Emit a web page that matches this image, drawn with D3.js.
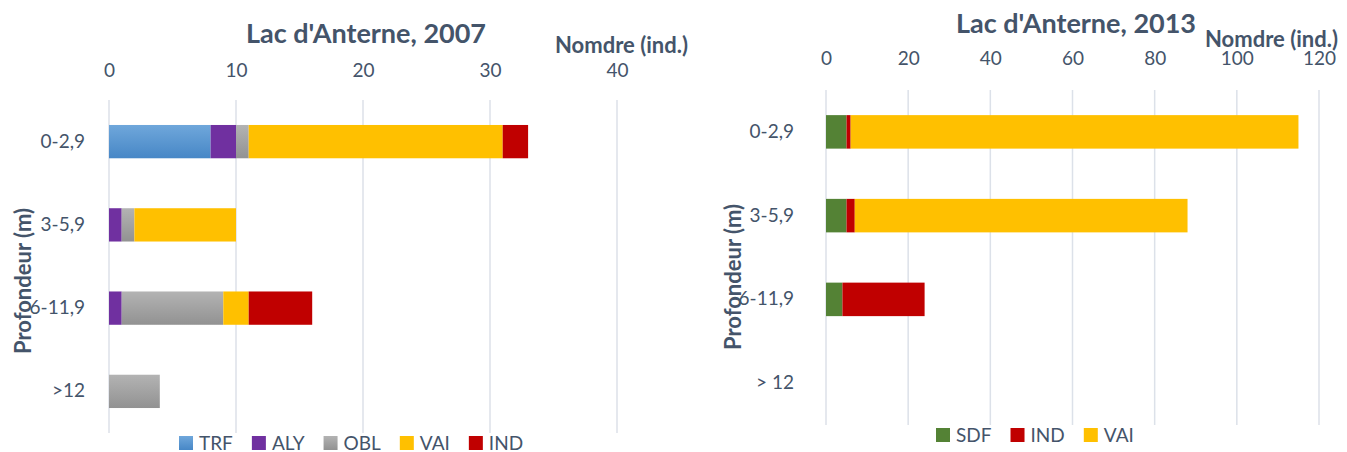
<!DOCTYPE html>
<html>
<head>
<meta charset="utf-8">
<script src="https://cdn.jsdelivr.net/npm/d3@7"></script>
<style>
  body { margin: 0; background: #fff; }
  svg text { font-family: Lato, "Open Sans", sans-serif; fill: #44546A; }
</style>
</head>
<body>
<svg id="chart" width="1347" height="452"></svg>
<script>
// depth classes
const depths2007 = ["0-2,9", "3-5,9", "6-11,9", ">12"];
const depths2013 = ["0-2,9", "3-5,9", "6-11,9", "> 12"];

// 2007 counts per group
const trf2007 = [8, 0, 0, 0];
const aly2007 = [2, 1, 1, 0];
const obl2007 = [1, 1, 8, 4];
const vai2007 = [20, 8, 2, 0];
const ind2007 = [2, 0, 5, 0];

// 2013 counts per group
const sdf2013 = [5, 5, 4, 0];
const ind2013 = [1, 2, 20, 0];
const vai2013 = [109, 81, 0, 0];

const ticks2007 = [0, 10, 20, 30, 40];
const ticks2013 = [0, 20, 40, 60, 80, 100, 120];

const colors = {
    TRF: "url(#gradTRF)",
    ALY: "#7030A0",
    OBL: "url(#gradOBL)",
    VAI: "#FFC000",
    IND: "#C00000",
    SDF: "#548235"
};

const svg = d3.select("svg#chart");
const defs = svg.append("defs");

function addGrad(id, top, bottom) {
    const g = defs.append("linearGradient").attr("id", id)
        .attr("x1", 0).attr("y1", 0).attr("x2", 0).attr("y2", 1);
    g.append("stop").attr("offset", "0%").attr("stop-color", top);
    g.append("stop").attr("offset", "100%").attr("stop-color", bottom);
}
addGrad("gradTRF", "#6FA7DB", "#4787C6");
addGrad("gradOBL", "#B3B3B3", "#929292");

function drawChart(opt) {
    const keys = opt.keys;
    const rows = opt.cats.map((c, i) => {
        const r = { cat: c };
        keys.forEach(k => r[k] = opt.series[k][i]);
        return r;
    });

    const x = d3.scaleLinear().domain(opt.domain).range(opt.xRange);
    const y = d3.scaleBand().domain(opt.cats).range(opt.yRange)
        .paddingInner(0.6).paddingOuter(0.3);

    const g = svg.append("g");

    // gridlines
    g.selectAll("line.grid").data(opt.ticks).enter().append("line")
        .attr("class", "grid")
        .attr("x1", d => x(d)).attr("x2", d => x(d))
        .attr("y1", opt.yRange[0]).attr("y2", opt.yRange[1])
        .attr("stroke", "#DCE1E9")
        .attr("stroke-width", 1.5);

    // value axis on top
    const xAxis = d3.axisTop(x).tickValues(opt.ticks).tickSize(0).tickPadding(3);
    const xg = g.append("g")
        .attr("transform", `translate(0,${opt.tickY})`)
        .call(xAxis);
    xg.select(".domain").remove();
    xg.selectAll("text").attr("font-size", 19).attr("font-family", null).style("fill", "#44546A");

    // category axis
    const yAxis = d3.axisLeft(y).tickSize(0).tickPadding(opt.catPad);
    const yg = g.append("g")
        .attr("transform", `translate(${opt.xRange[0]},0)`)
        .call(yAxis);
    yg.select(".domain").remove();
    yg.selectAll("text").attr("font-size", 19).attr("font-family", null).style("fill", "#44546A");

    // stacked bars
    const stacked = d3.stack().keys(keys)(rows);
    g.selectAll("g.layer").data(stacked).enter().append("g")
        .attr("class", "layer")
        .attr("fill", d => colors[d.key])
        .selectAll("rect").data(d => d).enter().append("rect")
        .attr("x", d => x(d[0]))
        .attr("y", d => y(d.data.cat))
        .attr("width", d => x(d[1]) - x(d[0]))
        .attr("height", y.bandwidth());

    // titles
    g.append("text").attr("x", opt.titleX).attr("y", opt.titleY)
        .attr("text-anchor", "middle")
        .attr("font-size", 27).attr("font-weight", "bold")
        .text(opt.title);
    g.append("text").attr("x", opt.unitX).attr("y", opt.unitY)
        .attr("font-size", 22).attr("font-weight", "bold")
        .text("Nomdre (ind.)");
    g.append("text")
        .attr("transform", `translate(${opt.axisTitleX},${opt.axisTitleY}) rotate(-90)`)
        .attr("text-anchor", "middle")
        .attr("font-size", 22).attr("font-weight", "bold")
        .text("Profondeur (m)");

    // legend
    let lx = opt.legendX;
    const lg = g.append("g");
    keys.slice().sort((a, b) => opt.legendOrder.indexOf(a) - opt.legendOrder.indexOf(b)).forEach(k => {
        lg.append("rect").attr("x", lx).attr("y", opt.legendY - 7)
            .attr("width", 14).attr("height", 14).attr("fill", colors[k]);
        const t = lg.append("text").attr("x", lx + 20).attr("y", opt.legendY)
            .attr("dy", "0.35em").attr("font-size", 19).text(k);
        lx += 20 + t.node().getComputedTextLength() + 19;
    });
}

drawChart({
    cats: depths2007,
    keys: ["TRF", "ALY", "OBL", "VAI", "IND"],
    legendOrder: ["TRF", "ALY", "OBL", "VAI", "IND"],
    series: { TRF: trf2007, ALY: aly2007, OBL: obl2007, VAI: vai2007, IND: ind2007 },
    domain: [0, 40], xRange: [109, 617], yRange: [100, 433],
    ticks: ticks2007, tickY: 80, catPad: 24,
    title: "Lac d'Anterne, 2007", titleX: 366, titleY: 43,
    unitX: 555, unitY: 53,
    axisTitleX: 31, axisTitleY: 281,
    legendX: 179, legendY: 443
});

drawChart({
    cats: depths2013,
    keys: ["SDF", "IND", "VAI"],
    legendOrder: ["SDF", "IND", "VAI"],
    series: { SDF: sdf2013, IND: ind2013, VAI: vai2013 },
    domain: [0, 120], xRange: [826, 1319], yRange: [90, 425],
    ticks: ticks2013, tickY: 68, catPad: 32,
    title: "Lac d'Anterne, 2013", titleX: 1076, titleY: 33,
    unitX: 1205, unitY: 47,
    axisTitleX: 741, axisTitleY: 277,
    legendX: 936, legendY: 435
});
</script>
</body>
</html>
